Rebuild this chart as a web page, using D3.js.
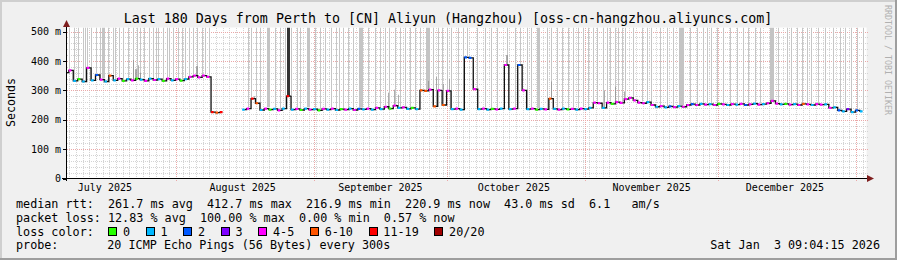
<!DOCTYPE html>
<html>
<head>
<meta charset="utf-8">
<script src="https://cdn.jsdelivr.net/npm/d3@7"></script>
<style>
body { margin: 0; background: #f0f0f0; }
svg { display: block; font-family: "DejaVu Sans Mono", monospace; }
text { white-space: pre; }
</style>
</head>
<body>
<svg id="svg" width="897" height="260"></svg>
<script>
const title = "Last 180 Days from Perth to [CN] Aliyun (Hangzhou) [oss-cn-hangzhou.aliyuncs.com]";
const startTime = Date.UTC(2025, 6, 7, 9, 4, 15);
const endTime = Date.UTC(2026, 0, 3, 9, 4, 15);

const yTicks = [0, 100, 200, 300, 400, 500];
const yTickLabels = ["0", "100 m", "200 m", "300 m", "400 m", "500 m"];
const monthLabels = ["July 2025", "August 2025", "September 2025", "October 2025", "November 2025", "December 2025"];
const monthStarts = ["2025-07-01", "2025-08-01", "2025-09-01", "2025-10-01", "2025-11-01", "2025-12-01", "2026-01-01"];

// median rtt (ms), one value per day from the start, null = no data
const median = [
  360,368,332,338,330,376,334,352,336,330,
  350,334,340,332,338,334,340,336,332,340,
  335,338,332,340,334,338,333,338,346,350,
  344,350,346,226,224,226,null,null,null,null,
  234,238,272,256,233,238,234,237,232,238,
  280,234,237,233,238,234,236,232,237,234,
  238,233,236,234,238,233,237,235,238,234,
  240,236,244,238,248,240,242,237,240,236,
  300,298,302,245,300,250,298,236,238,234,
  412,410,304,236,238,234,237,235,238,386,
  236,238,386,300,236,238,234,237,235,272,
  237,234,238,235,237,234,238,236,240,258,
  256,240,258,254,260,257,270,274,266,258,
  256,260,250,244,246,242,245,243,246,244,
  250,253,250,254,251,253,250,254,252,250,
  253,251,254,250,252,255,251,253,256,264,
  255,252,254,251,253,250,254,252,250,253,
  251,252,240,242,232,228,236,226,232,228
];

// loss band per day (index into lossColors)
const lossBand = [
  2,4,1,0,1,4,1,2,4,1,
  5,1,4,0,1,4,0,1,4,1,
  4,1,0,4,1,4,0,1,4,4,
  4,4,4,6,5,6,0,0,0,0,
  1,4,6,5,1,4,0,1,4,1,
  6,1,4,0,1,4,1,0,4,1,
  4,1,0,4,1,4,2,1,4,1,
  4,1,4,0,4,1,4,1,0,1,
  5,5,4,5,4,5,4,1,4,1,
  2,2,4,1,4,1,0,4,1,4,
  1,4,2,4,1,4,0,1,4,5,
  1,4,1,0,4,1,4,1,1,4,
  4,1,4,0,4,4,4,4,4,4,
  4,1,4,1,4,1,2,4,1,4,
  4,2,4,1,4,1,4,0,4,1,
  4,1,4,2,4,1,4,1,4,4,
  4,1,0,4,1,4,5,4,1,4,
  4,1,4,1,2,1,3,1,2,1
];
const lossColors = ["#26ff00", "#00b8ff", "#0059ff", "#7e00ff", "#ff00ff", "#ff5500", "#ff0000", "#a10000"];
const lossLabels = ["0", "1", "2", "3", "4-5", "6-10", "11-19", "20/20"];

// single slow pings above the scale (day offset)
const smokeThin = [0.6,1.65,2.6,3.6,4.1,4.65,5.6,6.6,7.5,9.4,10.35,10.9,11.85,12.75,13.9,15,15.9,16.5,17.4,18.6,19.5,20.1,20.6,
  21.75,22.5,23.1,24,25.1,25.9,26.6,27.6,28.5,29.4,30.4,31.1,32.1,40.9,41.6,42.6,43.5,46.9,48,49.1,50.4,51.8,52.5,55.9,57,58.1,
  59.6,60.6,61.4,62.3,63.4,64.5,67.9,69.4,70.5,71.6,72.6,73.9,75,76.1,77.3,78.4,79.5,82.5,83.6,84.4,85.5,86.6,88.1,89.3,90,92.3,
  94.1,95.4,96.8,99,100.9,102,103.5,104.6,108,109.1,110.3,111.4,112.9,114,115.1,116.3,117.4,118.5,119.3,120.8,121.5,122.3,123.4,
  124.1,124.9,125.6,127.5,129.4,130.5,131.6,133.5,135,136.5,140.3,141.8,143.3,144,145.1,146.3,147.8,149.3,150.8,152.3,153.4,
  154.9,156,160.1,162,163.1,164.3,165.4,166.5,167.6,169.1,170.6,172.5,174,175.1,176.6,177.8,179.3];
// longer stretches of slow pings [day, span in days]
const smokeBands = [[8.0,0.6],[45.1,0.7],[54.1,0.7],[65.8,0.9],[80.8,0.9],[105.8,0.7],[137.9,1.1],[158.2,0.8]];
// denser smoke near the median [day, span in days, top ms]
const smokeDense = [[14.9,0.3,403],[15.4,0.4,372],[16.1,0.3,385],[16.6,0.3,360],[29.2,0.4,382],[42.2,0.3,280],
  [49.6,0.6,600],[72.4,0.3,292],[73.6,0.3,302],[74.6,0.3,285],[81.4,0.3,332],[83.2,0.3,346],[84.7,0.3,322],
  [86.0,0.3,338],[98.9,0.4,420],[109.0,0.3,330],[121.0,0.3,300],[123.5,0.3,312],[125.5,0.3,296]];

const legendRtt = "median rtt:  261.7 ms avg  412.7 ms max  216.9 ms min  220.9 ms now  43.0 ms sd  6.1   am/s";
const legendLoss = "packet loss: 12.83 % avg  100.00 % max  0.00 % min  0.57 % now";
const probeText = "20 ICMP Echo Pings (56 Bytes) every 300s";
const stampText = "Sat Jan  3 09:04:15 2026";

const W = 897, H = 260;
const svg = d3.select("#svg");
const DAY = 864e5;
const toDate = d => new Date(startTime + d * DAY);

const x = d3.scaleUtc().domain([new Date(startTime), new Date(endTime)]).range([66.6, 866.6]);
const y = d3.scaleLinear().domain([0, 500]).range([178.5, 31.5]);
const plotTop = 27.5, plotBottom = 178.5, plotLeft = 66.6, plotRight = 866.6;

// background + shades
svg.append("rect").attr("width", W).attr("height", H).attr("fill", "#f0f0f0");
svg.append("path").attr("d", `M1,${H} V1 H${W}`).attr("stroke", "#cfcfcf").attr("stroke-width", 2).attr("fill", "none");
svg.append("path").attr("d", `M0,${H - 1} H${W - 1} V0`).attr("stroke", "#9e9e9e").attr("stroke-width", 2).attr("fill", "none");

svg.append("rect").attr("x", plotLeft).attr("y", plotTop).attr("width", plotRight - plotLeft).attr("height", plotBottom - plotTop).attr("fill", "#fff");

svg.append("defs").append("clipPath").attr("id", "clip")
  .append("rect").attr("x", plotLeft).attr("y", plotTop).attr("width", plotRight - plotLeft).attr("height", plotBottom - plotTop);

// grid
const grid = svg.append("g").attr("shape-rendering", "crispEdges");
const minorY = d3.range(0, 520, 20).filter(v => v % 100 != 0);
grid.selectAll(".hmin").data(minorY).join("line")
  .attr("x1", plotLeft).attr("x2", plotRight + 2)
  .attr("y1", d => Math.round(y(d)) + 0.5).attr("y2", d => Math.round(y(d)) + 0.5)
  .attr("stroke", "#d4d4d4").attr("stroke-dasharray", "1,1");

const aug1 = Date.UTC(2025, 7, 1);
const minorX = d3.range(-17, 105).map(k => new Date(aug1 + k * 1.5 * DAY)).filter(t => t > x.domain()[0] && t < x.domain()[1]);
grid.selectAll(".vmin").data(minorX).join("line")
  .attr("x1", d => Math.round(x(d)) + 0.5).attr("x2", d => Math.round(x(d)) + 0.5)
  .attr("y1", plotTop).attr("y2", plotBottom)
  .attr("stroke", "#d4d4d4").attr("stroke-dasharray", "1,1");

grid.selectAll(".hmaj").data(yTicks.slice(1)).join("line")
  .attr("x1", plotLeft).attr("x2", plotRight + 2)
  .attr("y1", d => Math.round(y(d)) + 0.5).attr("y2", d => Math.round(y(d)) + 0.5)
  .attr("stroke", "#eaa8a8").attr("stroke-dasharray", "1,1");

const monthDates = monthStarts.map(s => new Date(s + "T00:00:00Z"));
grid.selectAll(".vmaj").data(monthDates.slice(1)).join("line")
  .attr("x1", d => Math.round(x(d)) + 0.5).attr("x2", d => Math.round(x(d)) + 0.5)
  .attr("y1", plotTop).attr("y2", plotBottom + 2)
  .attr("stroke", "#eaa8a8").attr("stroke-dasharray", "1,1");

// data
const plot = svg.append("g").attr("clip-path", "url(#clip)");
const medAt = d => {
  const v = median[Math.max(0, Math.min(179, Math.round(d)))];
  return v == null ? 240 : v;
};

plot.selectAll(".smk").data(smokeThin).join("rect")
  .attr("x", d => Math.round(x(toDate(d))))
  .attr("width", 1)
  .attr("y", plotTop)
  .attr("height", d => y(medAt(d) + 4) - plotTop)
  .attr("fill", "#c6c6c6");

plot.selectAll(".smkb").data(smokeBands).join("rect")
  .attr("x", d => Math.round(x(toDate(d[0]))))
  .attr("width", d => Math.max(1, Math.round(x(toDate(d[0] + d[1])) - x(toDate(d[0])))))
  .attr("y", plotTop)
  .attr("height", d => y(medAt(d[0]) + 4) - plotTop)
  .attr("fill", "#c4c4c4");

plot.selectAll(".smkd").data(smokeDense).join("rect")
  .attr("x", d => Math.round(x(toDate(d[0]))))
  .attr("width", d => Math.max(1, Math.round(x(toDate(d[0] + d[1])) - x(toDate(d[0])))))
  .attr("y", d => Math.max(plotTop, y(d[2])))
  .attr("height", d => y(medAt(d[0])) - Math.max(plotTop, y(d[2])))
  .attr("fill", d => d[2] > 500 ? "#333" : "#8a8a8a")
  .attr("fill-opacity", d => d[2] > 500 ? 1 : 0.7);

const medianPts = median.map((v, i) => [toDate(i), v, lossBand[i]]);
const line = d3.line()
  .defined(d => d[1] != null)
  .x(d => x(d[0]))
  .y(d => y(d[1]))
  .curve(d3.curveStep);

plot.append("path").datum(medianPts)
  .attr("d", line)
  .attr("fill", "none")
  .attr("stroke", "#111")
  .attr("stroke-width", 1.3);

const halfDay = x(toDate(0.5)) - x(toDate(0));
plot.selectAll(".loss").data(medianPts.filter(d => d[1] != null)).join("line")
  .attr("x1", d => x(d[0]) - halfDay)
  .attr("x2", d => x(d[0]) - halfDay + 2.6)
  .attr("y1", d => y(d[1]))
  .attr("y2", d => y(d[1]))
  .attr("stroke", d => lossColors[d[2]])
  .attr("stroke-width", 2.2);

// axes
const ax = svg.append("g");
ax.append("line").attr("x1", 62).attr("x2", 868).attr("y1", 178.5).attr("y2", 178.5).attr("stroke", "#000");
ax.append("line").attr("x1", 66.5).attr("x2", 66.5).attr("y1", 181).attr("y2", 25).attr("stroke", "#000");
ax.append("path").attr("d", "M66.5,20 L63,27 L70,27 Z").attr("fill", "#7f1f1f");
ax.append("path").attr("d", "M874,178.5 L867,175 L867,182 Z").attr("fill", "#7f1f1f");

ax.selectAll(".ytick").data(yTicks).join("line")
  .attr("x1", 63).attr("x2", 66.5)
  .attr("y1", d => Math.round(y(d)) + 0.5).attr("y2", d => Math.round(y(d)) + 0.5)
  .attr("stroke", "#000");

ax.selectAll(".ylab").data(yTicks).join("text")
  .attr("x", 61).attr("y", d => y(d) + 3.6)
  .attr("text-anchor", "end").attr("font-size", 10).attr("fill", "#000")
  .text((d, i) => yTickLabels[i]);

ax.selectAll(".xlab").data(monthLabels).join("text")
  .attr("x", (d, i) => x(new Date(monthDates[i].getTime() + 15 * DAY)))
  .attr("y", 191)
  .attr("text-anchor", "middle").attr("font-size", 10).attr("fill", "#000")
  .text(d => d);

svg.append("text").attr("x", 448).attr("y", 23).attr("text-anchor", "middle")
  .attr("font-size", 13.3).attr("fill", "#000").text(title);

svg.append("text").attr("transform", "translate(15,102.5) rotate(-90)")
  .attr("text-anchor", "middle").attr("font-size", 11.6).attr("fill", "#000").text("Seconds");

svg.append("text").attr("transform", "translate(884.5,60) rotate(90)")
  .attr("text-anchor", "middle").attr("font-size", 8.3).attr("fill", "#b0b0b0").text("RRDTOOL / TOBI OETIKER");

// legend
const lg = svg.append("g").attr("font-size", 11.75).attr("fill", "#000");
lg.append("text").attr("x", 16).attr("y", 208).text(legendRtt);
lg.append("text").attr("x", 16).attr("y", 222).text(legendLoss);
lg.append("text").attr("x", 16).attr("y", 235.5).text("loss color:");
lg.append("text").attr("x", 16).attr("y", 249).text("probe:");
lg.append("text").attr("x", 107.3).attr("y", 249).text(probeText);
lg.append("text").attr("x", 880).attr("y", 249).attr("text-anchor", "end").text(stampText);

let bx = 108.3;
lossLabels.forEach((lab, i) => {
  lg.append("rect").attr("x", Math.round(bx) + 0.5).attr("y", 227.5).attr("width", 8).attr("height", 8)
    .attr("fill", lossColors[i]).attr("stroke", "#000");
  const t = lg.append("text").attr("x", bx + 14.8).attr("y", 235.5).text(lab);
  bx = bx + 14.8 + t.node().getComputedTextLength() + 15.6;
});
</script>
</body>
</html>
